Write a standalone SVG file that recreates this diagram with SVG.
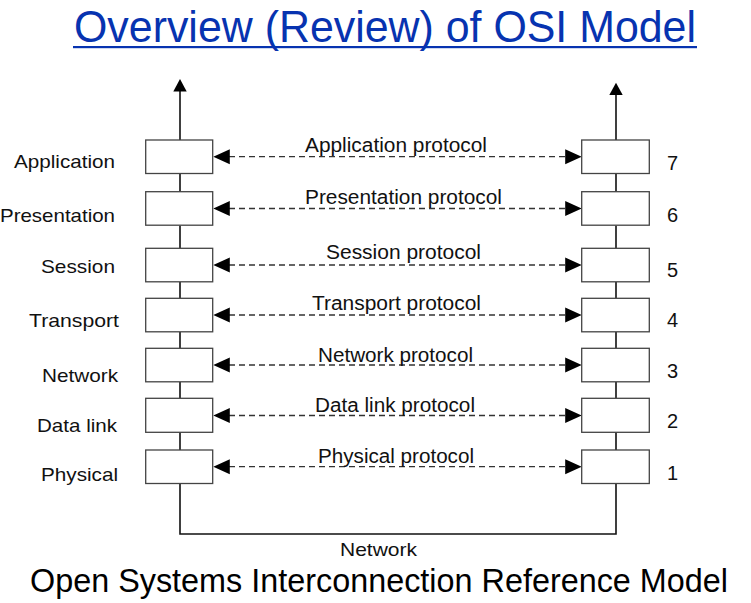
<svg xmlns="http://www.w3.org/2000/svg" width="751" height="603" viewBox="0 0 751 603">
<style>
.box{fill:#fff;stroke:#444;stroke-width:1.3}
.ln{fill:none;stroke:#111;stroke-width:1.6}
.dash{fill:none;stroke:#333;stroke-width:1.3;stroke-dasharray:6 4}
.ah{fill:#000}
.t{font-family:"Liberation Sans",Arial,sans-serif;fill:#111;font-size:18.5px}
.p{font-family:"Liberation Sans",Arial,sans-serif;fill:#111;font-size:19.5px}
.n{font-family:"Liberation Sans",Arial,sans-serif;fill:#111;font-size:20px}
</style>
<rect width="751" height="603" fill="#fff"/>
<g id="title">
<text x="74" y="42" font-family="'Liberation Sans',Arial,sans-serif" font-size="45" fill="#0733b0" textLength="622" lengthAdjust="spacingAndGlyphs">Overview (Review) of OSI Model</text>
<rect x="73" y="46" width="624" height="2.2" fill="#0733b0"/>
</g>
<g id="connectors">
<path class="ln" d="M180 91V140M180 174V191.7M180 225.4V248.3M180 282V298.3M180 332V348.3M180 382V398.3M180 432V450M180 483.5V534H616V483.5M616 432V450M616 382V398.3M616 332V348.3M616 282V298.3M616 225.4V248.3M616 174V191.7M616 140V94"/>
<path class="ah" d="M180 79L173.3 91.5H186.7Z"/>
<path class="ah" d="M616 82.7L609.3 95H622.7Z"/>
<g id="protocol-arrows">
<path class="dash" d="M229 156.7H566M229 208.5H566M229 265H566M229 315H566M229 365H566M229 415.5H566M229 466.7H566"/>
<path class="ah" d="M213.3 156.7l16.5-7.5v15zM581.7 156.7l-16.5-7.5v15z"/>
<path class="ah" d="M213.3 208.5l16.5-7.5v15zM581.7 208.5l-16.5-7.5v15z"/>
<path class="ah" d="M213.3 265l16.5-7.5v15zM581.7 265l-16.5-7.5v15z"/>
<path class="ah" d="M213.3 315l16.5-7.5v15zM581.7 315l-16.5-7.5v15z"/>
<path class="ah" d="M213.3 365l16.5-7.5v15zM581.7 365l-16.5-7.5v15z"/>
<path class="ah" d="M213.3 415.5l16.5-7.5v15zM581.7 415.5l-16.5-7.5v15z"/>
<path class="ah" d="M213.3 466.7l16.5-7.5v15zM581.7 466.7l-16.5-7.5v15z"/>
</g>
</g>
<g id="left-stack">
<rect class="box" x="145.7" y="140" width="67" height="33.5"/>
<rect class="box" x="145.7" y="191.7" width="67" height="33.5"/>
<rect class="box" x="145.7" y="248.3" width="67" height="33.5"/>
<rect class="box" x="145.7" y="298.3" width="67" height="33.5"/>
<rect class="box" x="145.7" y="348.3" width="67" height="33.5"/>
<rect class="box" x="145.7" y="398.3" width="67" height="34"/>
<rect class="box" x="145.7" y="450" width="67" height="33.5"/>
</g>
<g id="right-stack">
<rect class="box" x="581.7" y="140" width="67.6" height="33.5"/>
<rect class="box" x="581.7" y="191.7" width="67.6" height="33.5"/>
<rect class="box" x="581.7" y="248.3" width="67.6" height="33.5"/>
<rect class="box" x="581.7" y="298.3" width="67.6" height="33.5"/>
<rect class="box" x="581.7" y="348.3" width="67.6" height="33.5"/>
<rect class="box" x="581.7" y="398.3" width="67.6" height="34"/>
<rect class="box" x="581.7" y="450" width="67.6" height="33.5"/>
</g>
<g id="layer-names">
<text class="t" x="14" y="168" textLength="101" lengthAdjust="spacingAndGlyphs">Application</text>
<text class="t" x="0" y="222" textLength="115" lengthAdjust="spacingAndGlyphs">Presentation</text>
<text class="t" x="41" y="273" textLength="74" lengthAdjust="spacingAndGlyphs">Session</text>
<text class="t" x="29" y="327" textLength="90" lengthAdjust="spacingAndGlyphs">Transport</text>
<text class="t" x="42" y="382" textLength="76" lengthAdjust="spacingAndGlyphs">Network</text>
<text class="t" x="37" y="432" textLength="80" lengthAdjust="spacingAndGlyphs">Data link</text>
<text class="t" x="41" y="481" textLength="77" lengthAdjust="spacingAndGlyphs">Physical</text>
</g>
<g id="protocol-labels">
<text class="p" x="305" y="152" textLength="182" lengthAdjust="spacingAndGlyphs">Application protocol</text>
<text class="p" x="305" y="204" textLength="197" lengthAdjust="spacingAndGlyphs">Presentation protocol</text>
<text class="p" x="326" y="259" textLength="155" lengthAdjust="spacingAndGlyphs">Session protocol</text>
<text class="p" x="312" y="310" textLength="169" lengthAdjust="spacingAndGlyphs">Transport protocol</text>
<text class="p" x="318" y="361.5" textLength="155" lengthAdjust="spacingAndGlyphs">Network protocol</text>
<text class="p" x="315" y="412" textLength="160" lengthAdjust="spacingAndGlyphs">Data link protocol</text>
<text class="p" x="318" y="463" textLength="156" lengthAdjust="spacingAndGlyphs">Physical protocol</text>
</g>
<g id="layer-numbers">
<text class="n" x="667" y="170">7</text>
<text class="n" x="667" y="221.7">6</text>
<text class="n" x="667" y="276.7">5</text>
<text class="n" x="667" y="326.7">4</text>
<text class="n" x="667" y="378.3">3</text>
<text class="n" x="667" y="428.3">2</text>
<text class="n" x="667" y="480">1</text>
</g>
<g id="network-label">
<text class="t" x="340" y="556" textLength="77" lengthAdjust="spacingAndGlyphs">Network</text>
</g>
<g id="caption">
<text x="30" y="592" font-family="'Liberation Sans',Arial,sans-serif" font-size="33" fill="#000" textLength="698" lengthAdjust="spacingAndGlyphs">Open Systems Interconnection Reference Model</text>
</g>
</svg>
